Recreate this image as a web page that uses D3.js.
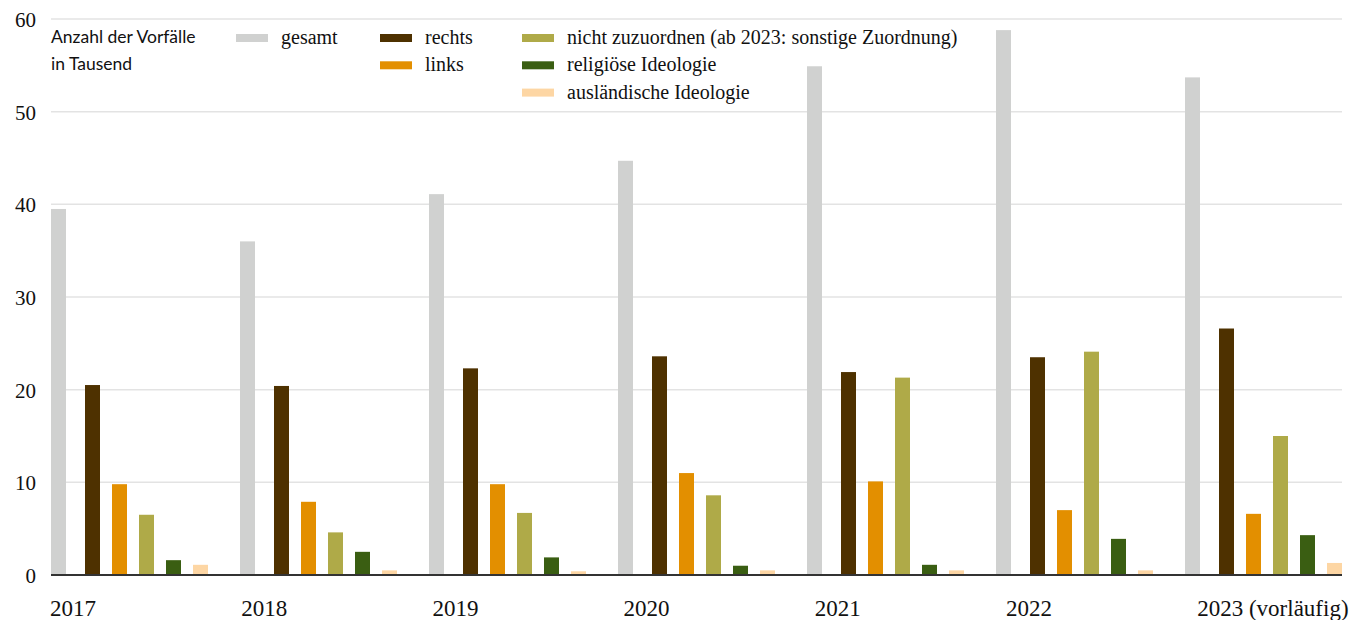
<!DOCTYPE html>
<html>
<head>
<meta charset="utf-8">
<script src="https://cdn.jsdelivr.net/npm/d3@7"></script>
<style>
    body { margin: 0; background: #fff; }
    .tick-y { font-family: "Liberation Serif", serif; font-size: 21px; fill: #111; }
    .tick-x { font-family: "Liberation Serif", serif; font-size: 23px; fill: #111; }
    .legend-text { font-family: "Liberation Serif", serif; font-size: 20px; fill: #111; }
    .unit-text { font-family: Lato, sans-serif; font-size: 17.5px; fill: #111; }
</style>
</head>
<body>
<div class="svg-container"></div>
<script>
var years = ["2017", "2018", "2019", "2020", "2021", "2022", "2023"];
var yearLabels = ["2017", "2018", "2019", "2020", "2021", "2022", "2023 (vorläufig)"];

var gesamt   = [39.5, 36.0, 41.1, 44.7, 54.9, 58.8, 53.7];
var rechts   = [20.5, 20.4, 22.3, 23.6, 21.9, 23.5, 26.6];
var links    = [9.8, 7.9, 9.8, 11.0, 10.1, 7.0, 6.6];
var nichtZuz = [6.5, 4.6, 6.7, 8.6, 21.3, 24.1, 15.0];
var religioes = [1.6, 2.5, 1.9, 1.0, 1.1, 3.9, 4.3];
var auslaend = [1.1, 0.5, 0.4, 0.5, 0.5, 0.5, 1.3];

var yTicks = [0, 10, 20, 30, 40, 50, 60];

var seriesKeys = ["rechts", "links", "nicht", "religioes", "auslaend"];
var seriesValues = {
    gesamt: gesamt,
    rechts: rechts,
    links: links,
    nicht: nichtZuz,
    religioes: religioes,
    auslaend: auslaend
};
var seriesNames = {
    gesamt: "gesamt",
    rechts: "rechts",
    links: "links",
    nicht: "nicht zuzuordnen (ab 2023: sonstige Zuordnung)",
    religioes: "religiöse Ideologie",
    auslaend: "ausländische Ideologie"
};
var colors = {
    gesamt: "#d0d1d0",
    rechts: "#4e3100",
    links: "#e38f00",
    nicht: "#afaa48",
    religioes: "#3a5e12",
    auslaend: "#fdd6a4"
};

var width = 1367;
var height = 620;
var plotLeft = 51;
var plotRight = 1342;
var plotTop = 19;
var plotBottom = 575;

var svg = d3.select(".svg-container").append("svg")
    .attr("width", width)
    .attr("height", height);

// Y
var y = d3.scaleLinear()
    .domain([0, 60])
    .range([plotBottom, plotTop]);

svg.append("g")
    .selectAll("line")
    .data(yTicks.filter(function(d) { return d > 0; }))
    .enter().append("line")
    .attr("x1", plotLeft)
    .attr("x2", plotRight)
    .attr("y1", function(d) { return y(d); })
    .attr("y2", function(d) { return y(d); })
    .attr("stroke", "#e3e3e3")
    .attr("stroke-width", 1.5);

svg.append("g")
    .selectAll("text")
    .data(yTicks)
    .enter().append("text")
    .attr("class", "tick-y")
    .attr("x", 36)
    .attr("y", function(d) { return y(d) + 8; })
    .attr("text-anchor", "end")
    .text(function(d) { return d; });

// X
var x0 = d3.scaleBand()
    .domain(years)
    .range([plotLeft, plotRight])
    .paddingInner(32 / 189)
    .paddingOuter(0);

// gesamt sits at the start of each group, the other series after a gap
var x1 = d3.scaleBand()
    .domain(seriesKeys)
    .range([34, x0.bandwidth()])
    .paddingInner(12 / 27)
    .paddingOuter(0);

var barWidth = x1.bandwidth();

var xLabel = d3.scalePoint()
    .domain(years)
    .range([plotLeft - 1, plotLeft - 1 + 6 * 191.2]);

svg.append("g")
    .selectAll("text")
    .data(years)
    .enter().append("text")
    .attr("class", "tick-x")
    .attr("x", function(d) { return xLabel(d); })
    .attr("y", 616)
    .text(function(d, i) { return yearLabels[i]; });

// Bars
var groups = svg.append("g")
    .selectAll("g")
    .data(years)
    .enter().append("g")
    .attr("transform", function(d) { return "translate(" + x0(d) + ",0)"; });

groups.append("rect")
    .attr("x", 0)
    .attr("width", barWidth)
    .attr("y", function(d, i) { return y(gesamt[i]); })
    .attr("height", function(d, i) { return y(0) - y(gesamt[i]); })
    .attr("fill", colors.gesamt);

groups.each(function(year, i) {
    d3.select(this).selectAll(".bar")
        .data(seriesKeys)
        .enter().append("rect")
        .attr("class", "bar")
        .attr("x", function(k) { return x1(k); })
        .attr("width", barWidth)
        .attr("y", function(k) { return y(seriesValues[k][i]); })
        .attr("height", function(k) { return y(0) - y(seriesValues[k][i]); })
        .attr("fill", function(k) { return colors[k]; });
});

// zero line
svg.append("line")
    .attr("x1", plotLeft)
    .attr("x2", plotRight)
    .attr("y1", y(0))
    .attr("y2", y(0))
    .attr("stroke", "#333")
    .attr("stroke-width", 2);

// Unit label
svg.append("text")
    .attr("class", "unit-text")
    .attr("x", 51)
    .attr("y", 43)
    .text("Anzahl der Vorfälle");
svg.append("text")
    .attr("class", "unit-text")
    .attr("x", 51)
    .attr("y", 70)
    .text("in Tausend");

// Legend
var legendItems = [
    { key: "gesamt", col: 0, row: 0 },
    { key: "rechts", col: 1, row: 0 },
    { key: "links", col: 1, row: 1 },
    { key: "nicht", col: 2, row: 0 },
    { key: "religioes", col: 2, row: 1 },
    { key: "auslaend", col: 2, row: 2 }
];
var legendCols = [236, 380, 522];

var legend = svg.append("g")
    .selectAll("g")
    .data(legendItems)
    .enter().append("g")
    .attr("transform", function(d) {
        return "translate(" + legendCols[d.col] + "," + (38 + d.row * 27.3) + ")";
    });

legend.append("rect")
    .attr("x", 0)
    .attr("y", -4)
    .attr("width", 32)
    .attr("height", 8)
    .attr("fill", function(d) { return colors[d.key]; });

legend.append("text")
    .attr("class", "legend-text")
    .attr("x", 45)
    .attr("y", 6)
    .text(function(d) { return seriesNames[d.key]; });
</script>
</body>
</html>
